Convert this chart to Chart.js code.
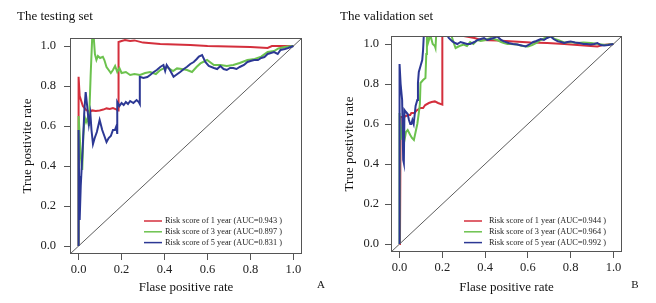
<!DOCTYPE html>
<html><head><meta charset="utf-8">
<script src="https://cdn.jsdelivr.net/npm/chart.js@4.4.0/dist/chart.umd.min.js"></script>
<style>
html,body{margin:0;padding:0;background:#fff;width:656px;height:303px;overflow:hidden}
#c1{position:absolute;left:0;top:0}
#c2{position:absolute;left:330px;top:0}
</style></head><body>
<canvas id="c1" width="330" height="303"></canvas>
<canvas id="c2" width="326" height="303"></canvas>
<script>
// ---- data ----
const tickValues = [0, 0.2, 0.4, 0.6, 0.8, 1.0];
const axisRange = [-0.04, 1.04];
const diagonal = [[-0.04, -0.04], [1.04, 1.04]];
const seriesNames = ['Risk score of 1 year', 'Risk score of 3 year', 'Risk score of 5 year'];
const aucTest = ['0.943', '0.897', '0.831'];
const aucValid = ['0.944', '0.964', '0.992'];
const panelTitles = ['The testing set', 'The validation set'];
const panelLetters = ['A', 'B'];
const xTitle = 'Flase positive rate';
const yTitle = 'True postivite rate';

// testing set ROC points [FPR, TPR]
const testYear1 = [[0,0],[0,0.846],[0.005,0.75],[0.02,0.70],[0.035,0.68],[0.052,0.67],[0.063,0.678],[0.08,0.675],[0.098,0.678],[0.115,0.682],[0.13,0.688],[0.145,0.685],[0.16,0.69],[0.175,0.683],[0.184,0.678],[0.186,1.02],[0.2,1.025],[0.216,1.03],[0.24,1.025],[0.26,1.028],[0.3,1.017],[0.38,1.01],[0.45,1.007],[0.52,1.005],[0.6,1.0],[0.7,0.997],[0.8,0.995],[0.88,0.99],[0.9,1.0],[0.95,1.0],[1,1]];
const testYear3 = [[0,0],[0,0.65],[0.004,0.58],[0.01,0.45],[0.017,0.38],[0.022,0.55],[0.028,0.646],[0.035,0.62],[0.042,0.64],[0.048,0.60],[0.056,0.85],[0.064,1.06],[0.07,1.05],[0.076,0.96],[0.083,0.93],[0.09,0.95],[0.1,0.94],[0.113,0.946],[0.12,0.93],[0.13,0.895],[0.14,0.88],[0.15,0.865],[0.16,0.88],[0.17,0.9],[0.18,0.87],[0.19,0.89],[0.2,0.865],[0.22,0.87],[0.24,0.855],[0.26,0.86],[0.286,0.855],[0.31,0.865],[0.333,0.87],[0.36,0.86],[0.38,0.88],[0.41,0.896],[0.44,0.875],[0.458,0.888],[0.48,0.885],[0.505,0.88],[0.528,0.87],[0.55,0.896],[0.567,0.913],[0.598,0.93],[0.63,0.905],[0.66,0.905],[0.69,0.9],[0.72,0.905],[0.75,0.915],[0.786,0.93],[0.82,0.935],[0.85,0.947],[0.88,0.97],[0.91,0.975],[0.93,0.988],[0.96,0.995],[0.973,0.997],[1,1]];
const testYear5 = [[0,0],[0,0.58],[0.002,0.35],[0.005,0.13],[0.01,0.3],[0.02,0.51],[0.027,0.68],[0.033,0.77],[0.04,0.7],[0.048,0.61],[0.055,0.66],[0.06,0.58],[0.067,0.51],[0.075,0.54],[0.085,0.57],[0.098,0.63],[0.11,0.58],[0.12,0.55],[0.13,0.52],[0.14,0.54],[0.15,0.55],[0.16,0.58],[0.169,0.58],[0.176,0.60],[0.18,0.56],[0.18,0.72],[0.19,0.70],[0.2,0.715],[0.21,0.705],[0.22,0.72],[0.23,0.71],[0.24,0.725],[0.255,0.715],[0.27,0.73],[0.28,0.72],[0.285,0.71],[0.285,0.846],[0.302,0.84],[0.32,0.845],[0.333,0.855],[0.35,0.87],[0.364,0.88],[0.38,0.895],[0.395,0.905],[0.403,0.875],[0.41,0.905],[0.425,0.88],[0.442,0.846],[0.46,0.86],[0.473,0.87],[0.49,0.885],[0.505,0.896],[0.52,0.91],[0.536,0.92],[0.55,0.935],[0.56,0.947],[0.575,0.955],[0.59,0.92],[0.606,0.9],[0.63,0.89],[0.645,0.885],[0.66,0.9],[0.675,0.885],[0.69,0.88],[0.705,0.89],[0.72,0.89],[0.735,0.885],[0.75,0.895],[0.77,0.905],[0.786,0.92],[0.8,0.925],[0.817,0.93],[0.835,0.93],[0.85,0.94],[0.865,0.945],[0.88,0.96],[0.895,0.965],[0.91,0.97],[0.927,0.96],[0.94,0.98],[0.96,0.985],[0.975,0.99],[1,1]];

// validation set ROC points [FPR, TPR]
const validYear1 = [[0,0],[0.002,0.02],[0.005,0.635],[0.02,0.635],[0.03,0.64],[0.04,0.645],[0.05,0.645],[0.055,0.655],[0.07,0.655],[0.08,0.668],[0.098,0.68],[0.11,0.68],[0.12,0.695],[0.137,0.705],[0.15,0.71],[0.165,0.713],[0.18,0.705],[0.2,0.697],[0.2,1.06],[0.25,1.05],[0.3,1.04],[0.35,1.03],[0.38,1.02],[0.457,1.018],[0.535,1.013],[0.613,1.008],[0.69,1.005],[0.77,1.0],[0.863,0.993],[0.925,0.988],[0.95,0.995],[1,1]];
const validYear3 = [[0,0],[0,0.655],[0.005,0.52],[0.012,0.58],[0.022,0.513],[0.03,0.56],[0.038,0.57],[0.05,0.545],[0.058,0.53],[0.067,0.52],[0.075,0.56],[0.083,0.6],[0.09,0.655],[0.095,0.7],[0.098,0.805],[0.11,0.82],[0.121,0.83],[0.125,0.95],[0.128,1.06],[0.133,1.005],[0.14,1.03],[0.145,1.04],[0.155,1.0],[0.165,0.99],[0.168,0.98],[0.172,1.06],[0.2,1.08],[0.24,1.05],[0.255,1.0],[0.262,0.98],[0.28,0.99],[0.3,0.997],[0.315,0.99],[0.33,1.01],[0.345,1.0],[0.363,1.02],[0.38,1.015],[0.4,1.02],[0.426,1.03],[0.44,1.025],[0.457,1.02],[0.475,1.01],[0.488,1.005],[0.505,1.0],[0.52,1.0],[0.55,0.997],[0.575,0.99],[0.6,0.988],[0.62,0.995],[0.64,1.005],[0.66,1.02],[0.68,1.03],[0.707,1.04],[0.725,1.025],[0.74,1.02],[0.77,1.008],[0.8,1.01],[0.83,1.005],[0.86,1.008],[0.894,1.005],[0.93,1.0],[0.96,0.995],[1,1]];
const validYear5 = [[0,0],[0,0.9],[0.005,0.8],[0.012,0.72],[0.017,0.42],[0.02,0.405],[0.023,0.67],[0.03,0.66],[0.038,0.65],[0.044,0.62],[0.05,0.6],[0.055,0.6],[0.06,0.62],[0.066,0.6],[0.075,0.69],[0.083,0.72],[0.086,0.805],[0.09,0.86],[0.098,0.89],[0.106,0.92],[0.11,0.97],[0.115,1.08],[0.2,1.1],[0.215,1.06],[0.23,1.03],[0.247,1.013],[0.26,1.005],[0.27,1.0],[0.285,1.01],[0.3,1.005],[0.315,1.0],[0.33,1.0],[0.35,1.01],[0.365,1.02],[0.38,1.025],[0.395,1.03],[0.41,1.02],[0.425,1.025],[0.44,1.03],[0.457,1.038],[0.475,1.02],[0.488,1.013],[0.51,1.005],[0.53,1.0],[0.55,0.997],[0.57,0.993],[0.59,0.988],[0.61,1.0],[0.625,1.01],[0.64,1.015],[0.66,1.025],[0.675,1.02],[0.69,1.03],[0.707,1.038],[0.72,1.025],[0.74,1.013],[0.755,1.01],[0.77,1.005],[0.785,1.01],[0.8,1.013],[0.82,1.008],[0.84,1.005],[0.86,1.0],[0.875,1.0],[0.894,0.997],[0.91,1.0],[0.925,1.005],[0.94,0.995],[0.956,0.992],[0.975,0.995],[1,1]];

// ---- styling ----
const seriesColors = ['#d42f3c', '#6cc24e', '#2c3894'];
const SERIF = '"Liberation Serif", "DejaVu Serif", serif';

const toPts = arr => arr.map(p => ({x: p[0], y: p[1]}));

const decor = {
  id: 'decor',
  afterDraw(chart, args, o) {
    const ctx = chart.ctx, a = chart.chartArea;
    ctx.save();
    // frame box
    ctx.strokeStyle = '#555';
    ctx.lineWidth = 1;
    ctx.strokeRect(Math.round(a.left) + 0.5, Math.round(a.top) + 0.5,
                   Math.round(a.right - a.left) - 1, Math.round(a.bottom - a.top) - 1);
    // panel title
    ctx.fillStyle = '#111';
    ctx.font = '13px ' + SERIF;
    ctx.textBaseline = 'alphabetic';
    ctx.textAlign = 'left';
    ctx.fillText(o.title, o.titleX, 20);
    // panel letter
    ctx.font = '11px ' + SERIF;
    ctx.textAlign = 'center';
    ctx.textBaseline = 'middle';
    ctx.fillText(o.letter, o.letterX, 285);
    // legend
    ctx.font = '8.3px ' + SERIF;
    ctx.textAlign = 'left';
    ctx.textBaseline = 'middle';
    let row = 0;
    chart.data.datasets.forEach(ds => {
      if (!ds.legendText) return;
      const y = o.legendY + row * 10.8;
      ctx.strokeStyle = ds.borderColor;
      ctx.lineWidth = 1.5;
      ctx.beginPath();
      ctx.moveTo(o.lineX1, y); ctx.lineTo(o.lineX2, y);
      ctx.stroke();
      ctx.fillStyle = '#222';
      ctx.fillText(ds.legendText, o.textX, y);
      row++;
    });
    ctx.restore();
  }
};

function makeChart(id, series, aucs, cfg) {
  const datasets = series.map((s, i) => ({
    label: seriesNames[i],
    legendText: seriesNames[i] + ' (AUC=' + aucs[i] + ' )',
    data: toPts(s),
    borderColor: seriesColors[i],
    borderWidth: 2,
    pointRadius: 0,
    showLine: true,
    tension: 0,
    clip: 0,
    order: 3 - i
  }));
  datasets.push({
    label: 'diag',
    data: toPts(diagonal),
    borderColor: '#333',
    borderWidth: 0.8,
    pointRadius: 0,
    showLine: true,
    clip: 0,
    order: 10
  });
  const tickFont = {family: SERIF, size: 12.5};
  const titleFont = {family: SERIF, size: 13};
  return new Chart(document.getElementById(id), {
    type: 'scatter',
    data: {datasets},
    plugins: [decor],
    options: {
      responsive: false,
      animation: false,
      devicePixelRatio: 1,
      layout: {padding: {left: 0, right: cfg.padRight, top: cfg.padTop, bottom: 0}},
      plugins: {
        legend: {display: false},
        tooltip: {enabled: false},
        decor: cfg.decor
      },
      scales: {
        x: {
          type: 'linear', min: axisRange[0], max: axisRange[1],
          afterBuildTicks: s => { s.ticks = tickValues.map(v => ({value: v})); },
          afterFit: s => { s.height = cfg.xHeight; },
          border: {display: false},
          grid: {drawOnChartArea: false, drawTicks: true, tickLength: 6, color: '#555', tickColor: '#555'},
          ticks: {font: tickFont, color: '#222', padding: 2, maxRotation: 0,
                  callback: v => Number(v).toFixed(1)},
          title: {display: true, text: xTitle, font: titleFont, color: '#111', padding: {top: 0, bottom: 8}}
        },
        y: {
          type: 'linear', min: axisRange[0], max: axisRange[1],
          afterBuildTicks: s => { s.ticks = tickValues.map(v => ({value: v})); },
          afterFit: s => { s.width = cfg.yWidth; },
          border: {display: false},
          grid: {drawOnChartArea: false, drawTicks: true, tickLength: 6, color: '#555', tickColor: '#555'},
          ticks: {font: tickFont, color: '#222', padding: cfg.yTickPad,
                  callback: v => Number(v).toFixed(1)},
          title: {display: true, text: yTitle, font: titleFont, color: '#111', padding: {top: cfg.yTitlePad, bottom: 0}}
        }
      }
    }
  });
}

makeChart('c1', [testYear1, testYear3, testYear5], aucTest, {
  padRight: 28, padTop: 38, xHeight: 49, yWidth: 70, yTickPad: 8, yTitlePad: 20,
  decor: {title: panelTitles[0], titleX: 17, letter: panelLetters[0], letterX: 321,
          legendY: 221, lineX1: 144, lineX2: 162, textX: 165}
});
makeChart('c2', [validYear1, validYear3, validYear5], aucValid, {
  padRight: 34, padTop: 36, xHeight: 51, yWidth: 61, yTickPad: 6, yTitlePad: 12,
  decor: {title: panelTitles[1], titleX: 10, letter: panelLetters[1], letterX: 305,
          legendY: 221, lineX1: 134, lineX2: 152, textX: 159}
});
</script>
</body></html>
